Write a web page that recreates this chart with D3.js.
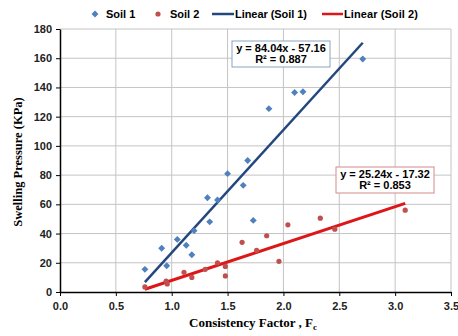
<!DOCTYPE html>
<html>
<head>
<meta charset="utf-8">
<script src="https://cdn.jsdelivr.net/npm/d3@7"></script>
<style>
  body { margin: 0; background: #fff; }
  text { font-family: "Liberation Sans", Arial, sans-serif; }
</style>
</head>
<body>
<div id="chart"></div>
<script>
// Soil 1 measured points [Fc, swelling pressure]
const soil1X = [0.76, 0.91, 0.955, 1.05, 1.13, 1.18, 1.20, 1.32, 1.34, 1.41, 1.50, 1.64, 1.68, 1.73, 1.87, 2.10, 2.175, 2.71];
const soil1Y = [15.5, 30, 18, 36, 32, 25.5, 42, 64.5, 48, 63, 81, 73, 90, 49, 125.5, 136.5, 137, 159.5];
// Soil 2 measured points
const soil2X = [0.76, 0.95, 0.96, 1.11, 1.18, 1.30, 1.41, 1.48, 1.48, 1.63, 1.76, 1.85, 1.96, 2.04, 2.33, 2.46, 3.09];
const soil2Y = [3.5, 7.5, 5.5, 13.5, 10, 15.5, 20, 17.5, 11, 34, 28.5, 38.5, 21, 46, 50.5, 43, 56];
// linear fits (slope, intercept, R²)
const fit1 = { slope: 84.04, intercept: -57.16, r2: 0.887 };
const fit2 = { slope: 25.24, intercept: -17.32, r2: 0.853 };
const xTicks = [0, 0.5, 1, 1.5, 2, 2.5, 3, 3.5];
const yTicks = [0, 20, 40, 60, 80, 100, 120, 140, 160, 180];

const W = 458, H = 336;
const margin = { top: 29, right: 7, bottom: 44, left: 60 };
const width = W - margin.left - margin.right;
const height = H - margin.top - margin.bottom;

const svg = d3.select('#chart').append('svg')
  .attr('width', W).attr('height', H);
const g = svg.append('g')
  .attr('transform', `translate(${margin.left},${margin.top})`);

const x = d3.scaleLinear().domain([0, 3.5]).range([0, width]);
const y = d3.scaleLinear().domain([0, 180]).range([height, 0]);

// grid
g.append('g').selectAll('line').data(yTicks.slice(1)).enter().append('line')
  .attr('x1', 0).attr('x2', width)
  .attr('y1', d => y(d)).attr('y2', d => y(d))
  .attr('stroke', '#c4c4c4').attr('stroke-width', 1);
g.append('g').selectAll('line').data(xTicks.slice(1)).enter().append('line')
  .attr('x1', d => x(d)).attr('x2', d => x(d))
  .attr('y1', 0).attr('y2', height)
  .attr('stroke', '#c4c4c4').attr('stroke-width', 1);

// axes
const xAxis = g.append('g')
  .attr('transform', `translate(0,${height})`)
  .call(d3.axisBottom(x).tickValues(xTicks).tickFormat(d3.format('.1f')).tickSizeInner(4).tickSizeOuter(0).tickPadding(6));
const yAxis = g.append('g')
  .call(d3.axisLeft(y).tickValues(yTicks).tickSizeInner(4).tickSizeOuter(0).tickPadding(4));
[xAxis, yAxis].forEach(a => {
  a.select('.domain').attr('stroke', '#000').attr('stroke-width', 1.5);
  a.selectAll('.tick line').attr('stroke', '#000');
  a.selectAll('.tick text')
    .attr('fill', '#222')
    .style('font-size', '11px')
    .style('font-weight', 'bold');
});

// trend lines
const trend = (f, xs, color, w) => {
  const x0 = d3.min(xs), x1 = d3.max(xs);
  g.append('line')
    .attr('x1', x(x0)).attr('y1', y(f.slope * x0 + f.intercept))
    .attr('x2', x(x1)).attr('y2', y(f.slope * x1 + f.intercept))
    .attr('stroke', color).attr('stroke-width', w);
};
trend(fit1, soil1X, '#24487e', 2.5);
trend(fit2, soil2X, '#dd1717', 3);

// points (diamonds = squares turned 45°)
const diamond = d3.symbol().type(d3.symbolSquare).size(24);
g.append('g').selectAll('path').data(soil1X).enter().append('path')
  .attr('d', diamond)
  .attr('transform', (d, i) => `translate(${x(d)},${y(soil1Y[i])}) rotate(45)`)
  .attr('fill', '#4f81bd');
g.append('g').selectAll('circle').data(soil2X).enter().append('circle')
  .attr('cx', d => x(d)).attr('cy', (d, i) => y(soil2Y[i]))
  .attr('r', 2.6)
  .attr('fill', '#c0504d');

// equation boxes
const eqBox = (f, cx, top, w, border) => {
  const b = g.append('g');
  b.append('rect')
    .attr('x', cx - w / 2 - margin.left).attr('y', top - margin.top)
    .attr('width', w).attr('height', 26)
    .attr('fill', '#fff').attr('stroke', border).attr('stroke-width', 1);
  b.append('text')
    .attr('x', cx - margin.left).attr('y', top - margin.top + 11)
    .attr('text-anchor', 'middle')
    .style('font-size', '11px').style('font-weight', 'bold')
    .text(`y = ${f.slope.toFixed(2)}x - ${Math.abs(f.intercept).toFixed(2)}`);
  b.append('text')
    .attr('x', cx - margin.left).attr('y', top - margin.top + 22)
    .attr('text-anchor', 'middle')
    .style('font-size', '11px').style('font-weight', 'bold')
    .text(`R² = ${f.r2.toFixed(3)}`);
};
eqBox(fit1, 281, 41, 98, '#8aa3c4');
eqBox(fit2, 385, 167, 98, '#d48a8a');

// legend
const lg = svg.append('g').style('font-size', '11px').style('font-weight', 'bold');
lg.append('path').attr('d', diamond).attr('transform', 'translate(95,14) rotate(45)').attr('fill', '#4f81bd');
lg.append('text').attr('x', 106).attr('y', 18).text('Soil 1');
lg.append('circle').attr('cx', 158).attr('cy', 14).attr('r', 2.6).attr('fill', '#c0504d');
lg.append('text').attr('x', 170).attr('y', 18).text('Soil 2');
lg.append('line').attr('x1', 212).attr('x2', 234).attr('y1', 14).attr('y2', 14)
  .attr('stroke', '#24487e').attr('stroke-width', 2.5);
lg.append('text').attr('x', 235).attr('y', 18).attr('textLength', 72).text('Linear (Soil 1)');
lg.append('line').attr('x1', 322).attr('x2', 343).attr('y1', 14).attr('y2', 14)
  .attr('stroke', '#dd1717').attr('stroke-width', 2.5);
lg.append('text').attr('x', 344).attr('y', 18).attr('textLength', 74).text('Linear (Soil 2)');

// axis titles
const xt = svg.append('text')
  .attr('x', 253).attr('y', 327)
  .attr('text-anchor', 'middle')
  .style('font-family', '"Liberation Serif", "DejaVu Serif", serif')
  .style('font-size', '13px').style('font-weight', 'bold')
  .text('Consistency Factor , F');
xt.append('tspan').attr('dy', 3).style('font-size', '9px').text('c');

svg.append('text')
  .attr('transform', 'translate(22,162) rotate(-90)')
  .attr('text-anchor', 'middle')
  .style('font-family', '"Liberation Serif", "DejaVu Serif", serif')
  .style('font-size', '12.5px').style('font-weight', 'bold')
  .text('Swelling Pressure (KPa)');
</script>
</body>
</html>
